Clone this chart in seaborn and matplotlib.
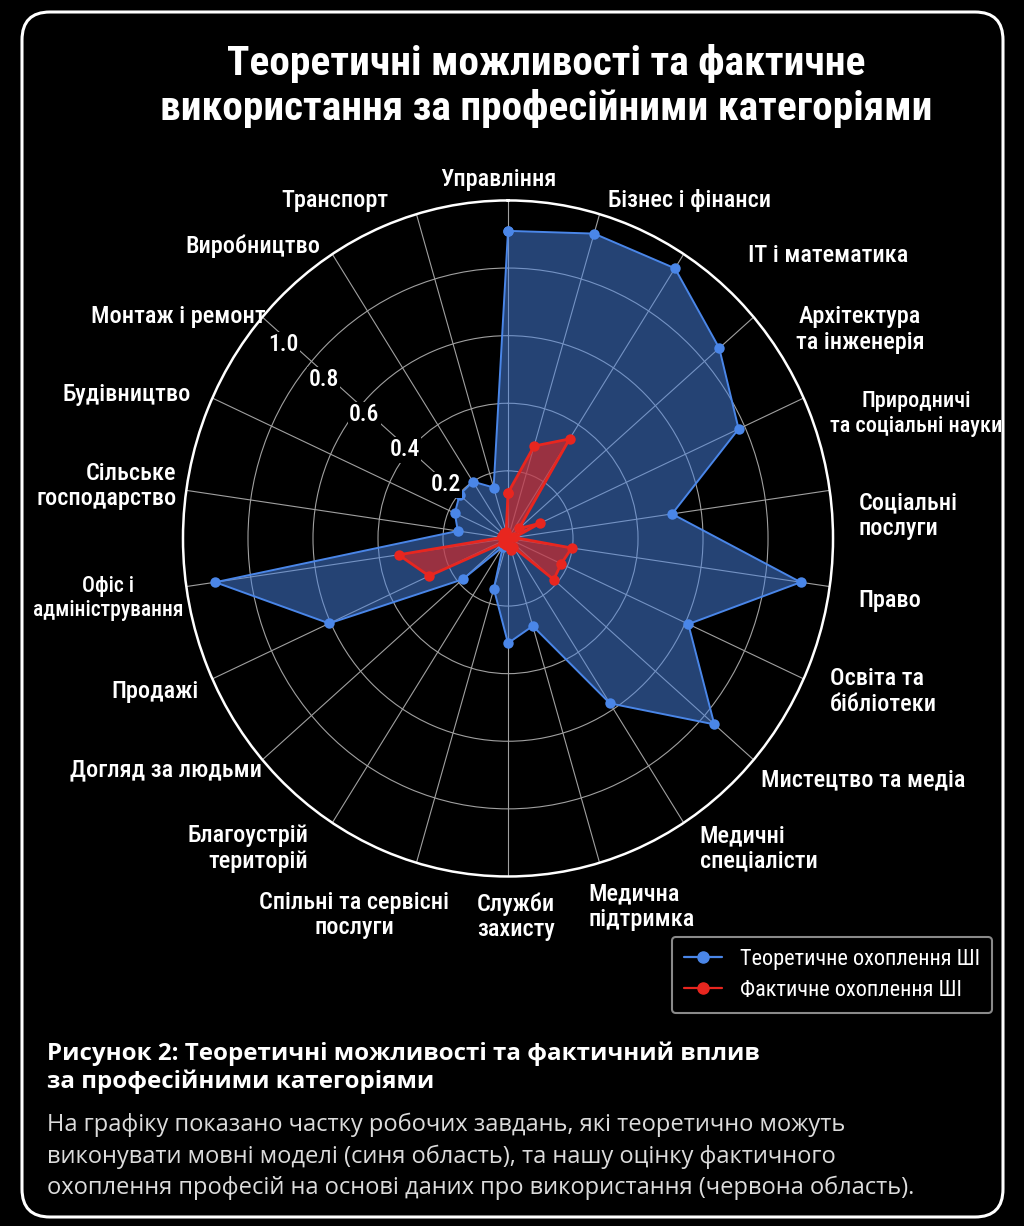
import numpy as np
import pandas as pd
import seaborn as sns
import matplotlib.pyplot as plt
from matplotlib import font_manager
from matplotlib.lines import Line2D
from matplotlib.patches import FancyBboxPatch

categories = [
    'Управління', 'Бізнес і фінанси', 'IT і математика', 'Архітектура\nта інженерія',
    'Природничі\nта соціальні науки', 'Соціальні\nпослуги', 'Право', 'Освіта та\nбібліотеки',
    'Мистецтво та медіа', 'Медичні\nспеціалісти', 'Медична\nпідтримка', 'Служби\nзахисту',
    'Спільні та сервісні\nпослуги', 'Благоустрій\nтериторій', 'Догляд за людьми', 'Продажі',
    'Офіс і\nадміністрування', 'Сільське\nгосподарство', 'Будівництво', 'Монтаж і ремонт',
    'Виробництво', 'Транспорт',
]
theoretical = [0.91, 0.94, 0.95, 0.86, 0.78, 0.51, 0.91, 0.61, 0.84, 0.58, 0.27,
               0.31, 0.155, 0.03, 0.185, 0.605, 0.91, 0.156, 0.18, 0.197, 0.20, 0.157]
observed = [0.135, 0.285, 0.35, 0.045, 0.108, 0.02, 0.198, 0.18, 0.186, 0.03, 0.037,
            0.02, 0.02, 0.01, 0.02, 0.267, 0.34, 0.02, 0.02, 0.015, 0.02, 0.02]
rticks = [0.2, 0.4, 0.6, 0.8, 1.0]
series_names = ['Теоретичне охоплення ШІ', 'Фактичне охоплення ШІ']

title = 'Теоретичні можливості та фактичне\nвикористання за професійними категоріями'
fig_heading = 'Рисунок 2: Теоретичні можливості та фактичний вплив\nза професійними категоріями'
fig_body = ('На графіку показано частку робочих завдань, які теоретично можуть\n'
            'виконувати мовні моделі (синя область), та нашу оцінку фактичного\n'
            'охоплення професій на основі даних про використання (червона область).')

BLUE = '#4a86e8'
RED = '#e8261f'

# hand nudges for the category labels, in pixels (right, down)
nudge = {0: (-10, 9), 1: (0, 16), 2: (48, 27), 3: (20, 32), 4: (0, 28), 5: (0, 30),
         6: (0, 10), 8: (-15, 0), 10: (-19, 15), 11: (8, 10), 12: (41, 23),
         13: (-8, 0), 14: (22, -10), 15: (13, 0), 16: (26, 7), 17: (19, 0),
         18: (5, 9), 19: (25, 19), 20: (4, 18), 21: (-20, 16)}
centered_lines = {3, 4, 11, 12, 16}
label_size = {4: 16, 16: 15.5}

sns.set_style('dark', {'axes.facecolor': 'black', 'figure.facecolor': 'black'})
fonts = font_manager.fontManager.ttflist
installed = {f.name for f in fonts}
narrow = next((f for f in ['Roboto Condensed', 'Liberation Sans Narrow', 'Roboto']
               if f in installed), 'DejaVu Sans')
narrow_w = 'medium' if any(f.name == narrow and f.weight in (500, 'medium') for f in fonts) else 'normal'
cap_font = next((n for n in ['Noto Sans', 'Open Sans', 'Inter', 'Roboto']
                 if any(f.name == n and f.weight in (600, 700, 'bold', 'semibold') for f in fonts)),
                'DejaVu Sans')
plt.rcParams['font.family'] = [narrow, 'DejaVu Sans']

fig = plt.figure(figsize=(10.24, 12.26), dpi=100, facecolor='black')
ax = fig.add_axes([0.1787, 0.2851, 0.6348, 0.5514], projection='polar')
ax.set_aspect('auto')
ax.set_facecolor('black')
ax.set_theta_zero_location('N')
ax.set_theta_direction(-1)

n = len(categories)
angles = np.linspace(0, 2 * np.pi, n, endpoint=False)

for vals, col, fa, lw in [(theoretical, BLUE, 0.5, 1.4), (observed, RED, 0.6, 2.0)]:
    df = pd.DataFrame({'theta': np.r_[angles, angles[0]], 'r': np.r_[vals, vals[0]]})
    sns.lineplot(data=df, x='theta', y='r', sort=False, estimator=None, ax=ax,
                 color=col, lw=lw, marker='o', markersize=7.5, markeredgewidth=0)
    ax.fill(angles, vals, color=col, alpha=fa, lw=0)

ax.set_xlabel('')
ax.set_ylabel('')
ax.set_xticks(angles)
ax.set_xticklabels([])
ax.set_ylim(0, 1)
ax.set_yticks(rticks[:-1])
ax.set_yticklabels([])
ax.grid(True, color='#a0a0a0', lw=0.8)
ax.spines['polar'].set_color('white')
ax.spines['polar'].set_linewidth(1.8)

# radial labels sit along the "Монтаж і ремонт" spoke
lab_theta = angles[19] - np.deg2rad(1.3)
for t in rticks:
    ax.text(lab_theta, 0.25 + (t - 0.2) * 0.81, f'{t:.1f}', ha='center', va='center',
            color='white', fontsize=17, fontweight=narrow_w,
            bbox=dict(facecolor='black', edgecolor='none', pad=1.0))

for i, (a, lab) in enumerate(zip(angles, categories)):
    s = np.sin(a)
    ha = 'left' if s > 0.05 else ('right' if s < -0.05 else 'center')
    dx, dy = nudge.get(i, (0, 0))
    ax.annotate(lab, xy=(a, 1.09), xytext=(dx * 0.72, -dy * 0.72), textcoords='offset points',
                ha=ha, va='center', ma='center' if i in centered_lines else ha,
                color='white', fontsize=label_size.get(i, 17.5), fontweight=narrow_w,
                linespacing=1.15, annotation_clip=False)

handles = [Line2D([], [], color=BLUE, lw=1.6, marker='o', markersize=8),
           Line2D([], [], color=RED, lw=1.6, marker='o', markersize=8)]
leg = fig.legend(handles, series_names, loc='upper left', bbox_to_anchor=(672 / 1024, 1 - 937 / 1226),
                 borderaxespad=0, frameon=True, facecolor='black', edgecolor='#8a8a8a',
                 labelcolor='white', fontsize=16, handlelength=1.7, handletextpad=0.8,
                 borderpad=0.55, labelspacing=0.45, fancybox=True, framealpha=1)
leg.get_frame().set_linewidth(1.5)

fig.text(0.533, 1 - 44 / 1226, title, ha='center', va='top', fontsize=29.8,
         fontweight='bold', color='white', linespacing=1.2)
fig.text(47 / 1024, 1 - 1041 / 1226, fig_heading, ha='left', va='top', fontsize=17.4,
         fontweight='bold', color='white', linespacing=1.2, family=[cap_font, 'DejaVu Sans'])
fig.text(47 / 1024, 1 - 1113 / 1226, fig_body, ha='left', va='top', fontsize=17,
         color='#dcdcdc', linespacing=1.38, family=[cap_font, 'DejaVu Sans'])

border = FancyBboxPatch((22, 1226 - 1217), 981, 1205,
                        boxstyle='round,pad=0,rounding_size=28', transform=None,
                        facecolor='none', edgecolor='white', lw=2.2)
fig.patches.append(border)

fig.savefig('out.png', dpi=100, facecolor='black')
